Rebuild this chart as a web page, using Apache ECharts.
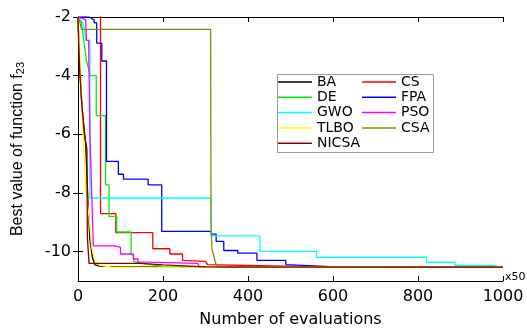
<!DOCTYPE html>
<html>
<head>
<meta charset="utf-8">
<script src="https://cdn.jsdelivr.net/npm/echarts@6/dist/echarts.min.js"></script>
<style>
html,body{margin:0;padding:0;background:#fff;}
#chart{width:527px;height:333px;}
</style>
</head>
<body>
<div id="chart"></div>
<script>
// ---- data (x = evaluations / 50, y = best value) ----
const seriesNames = ['BA','CS','DE','FPA','GWO','PSO','TLBO','CSA','NICSA'];
const seriesColors = ['#000000','#ff0000','#00ee00','#0000ff','#00ffff','#ff00ff','#ffff00','#8b8b00','#8b0000'];
const xTickValues = [0,200,400,600,800,1000];
const yTickValues = [-10,-8,-6,-4,-2];

const BA = [[0,-2],[3,-3.5],[10,-5.2],[18,-6.3],[24,-8.5],[28,-9.6],[34,-10.2],[40,-10.45],[55,-10.5],[1000,-10.53]];
const CS = [[0,-1.5],[53,-1.5],[53,-8.7],[89,-8.7],[89,-9.35],[176,-9.35],[176,-9.9],[216,-9.9],[216,-10.08],[246,-10.08],[246,-10.3],[300,-10.33],[305,-10.44],[430,-10.48],[600,-10.53],[1000,-10.53]];
const DE = [[0,-2],[8,-2.2],[20,-3.5],[29,-4],[43,-4],[43,-5.36],[65,-5.36],[65,-7.72],[73,-7.72],[73,-8.8],[91,-8.8],[91,-9.33],[125,-9.33],[125,-10.1],[131,-10.1],[131,-10.33],[150,-10.4],[200,-10.5],[260,-10.53],[1000,-10.53]];
const FPA = [[0,-2],[26,-2],[38,-2.1],[38,-2.2],[44,-2.2],[44,-2.89],[56,-2.89],[56,-3.5],[67,-3.5],[67,-6.92],[95,-6.92],[95,-7.36],[107,-7.36],[107,-7.53],[165,-7.53],[165,-7.72],[197,-7.72],[197,-9.31],[313,-9.31],[313,-9.4],[325,-9.4],[325,-9.65],[343,-9.65],[343,-9.96],[376,-9.96],[376,-10.05],[421,-10.05],[421,-10.3],[489,-10.3],[489,-10.44],[608,-10.52],[1000,-10.53]];
const GWO = [[0,-2],[12,-2.2],[19,-2.8],[28,-2.8],[28,-8.17],[313,-8.17],[313,-9.46],[428,-9.46],[428,-9.99],[561,-9.99],[561,-10.19],[820,-10.19],[820,-10.36],[887,-10.36],[887,-10.47],[973,-10.47],[1000,-10.53]];
const PSO = [[0,-2],[18,-2.1],[20,-2.8],[25,-2.8],[28,-6],[36,-9.8],[87,-9.8],[87,-9.85],[100,-9.85],[100,-10.08],[130,-10.08],[130,-10.25],[141,-10.25],[141,-10.35],[282,-10.4],[285,-10.5],[400,-10.53],[1000,-10.53]];
const TLBO = [[0,-2],[4,-3],[10,-5.5],[18,-7.8],[28,-9.1],[32,-9.85],[40,-10.3],[52,-10.47],[80,-10.53],[1000,-10.53]];
const CSA = [[0,-2],[3,-2.1],[8,-2.42],[312,-2.42],[313,-9.0],[315,-9.9],[326,-10.5],[340,-10.53],[1000,-10.53]];
const NICSA = [[0,-2],[3,-3.5],[8,-4.8],[15,-6],[21,-6.5],[22,-9.5],[26,-9.5],[26,-10.4],[150,-10.4],[200,-10.45],[300,-10.52],[1000,-10.53]];

const seriesData = [BA,CS,DE,FPA,GWO,PSO,TLBO,CSA,NICSA];

const chart = echarts.init(document.getElementById('chart'), null, {renderer:'canvas'});
const FONT = 'DejaVu Sans';
const plain = v => String(v);

const series = seriesNames.map((n,i)=>({
  name:n, type:'line', data:seriesData[i], symbol:'none', showSymbol:false,
  clip:true, lineStyle:{color:seriesColors[i], width:1.3}, itemStyle:{color:seriesColors[i]},
  xAxisIndex:0, yAxisIndex:0, z:2, silent:true
}));

const legendCommon = {
  orient:'vertical', itemWidth:34, itemHeight:1.5, itemGap:1.3, padding:0,
  icon:'rect', selectedMode:false, z:20,
  textStyle:{fontFamily:FONT, fontSize:14, color:'#000', lineHeight:14}
};

chart.setOption({
  animation:false,
  backgroundColor:'#fff',
  grid:{left:78, right:24, top:17, bottom:49, containLabel:false},
  xAxis:[{
    type:'value', min:0, max:1000, interval:200, position:'bottom',
    name:'Number of evaluations', nameLocation:'middle', nameGap:31,
    nameTextStyle:{fontFamily:FONT, fontSize:16, color:'#000'},
    axisLine:{lineStyle:{color:'#000', width:1}},
    axisTick:{inside:true, length:5, customValues:xTickValues, lineStyle:{color:'#000'}},
    axisLabel:{fontFamily:FONT, fontSize:16, color:'#000', margin:8, customValues:xTickValues, formatter:plain},
    splitLine:{show:false}
  },{
    type:'value', min:0, max:1000, interval:200, position:'top',
    axisLine:{lineStyle:{color:'#000', width:1}},
    axisTick:{inside:true, length:5, lineStyle:{color:'#000'}},
    axisLabel:{show:false}, splitLine:{show:false}
  }],
  yAxis:[{
    type:'value', min:-11, max:-2, position:'left',
    name:'Best value of function f{sub|23}', nameLocation:'middle', nameGap:52, nameRotate:90,
    nameTextStyle:{fontFamily:'Liberation Sans', fontSize:16, color:'#000',
      rich:{sub:{fontFamily:'Liberation Sans', fontSize:11, color:'#000', verticalAlign:'bottom', padding:[6,0,0,0]}}},
    axisLine:{lineStyle:{color:'#000', width:1}},
    axisTick:{inside:true, length:5, customValues:yTickValues, lineStyle:{color:'#000'}},
    axisLabel:{fontFamily:FONT, fontSize:16, color:'#000', margin:7, customValues:yTickValues, formatter:plain},
    splitLine:{show:false}
  },{
    type:'value', min:-11, max:-2, position:'right',
    axisLine:{lineStyle:{color:'#000', width:1}},
    axisTick:{inside:true, length:5, customValues:yTickValues, lineStyle:{color:'#000'}},
    axisLabel:{show:false}, splitLine:{show:false}
  }],
  legend:[
    Object.assign({left:278, top:75, data:['BA','DE','GWO','TLBO','NICSA']}, legendCommon),
    Object.assign({left:362, top:75, data:['CS','FPA','PSO','CSA']}, legendCommon)
  ],
  graphic:{
    elements:[
      {type:'rect', left:277, top:74, z:10, shape:{width:156, height:78}, style:{fill:'#fff', stroke:'#999', lineWidth:1}},
      {type:'text', left:505, top:272, z:10, style:{text:'x50', font:'11px "DejaVu Sans"', fill:'#000'}}
    ]
  },
  series:series
});
</script>
</body>
</html>
